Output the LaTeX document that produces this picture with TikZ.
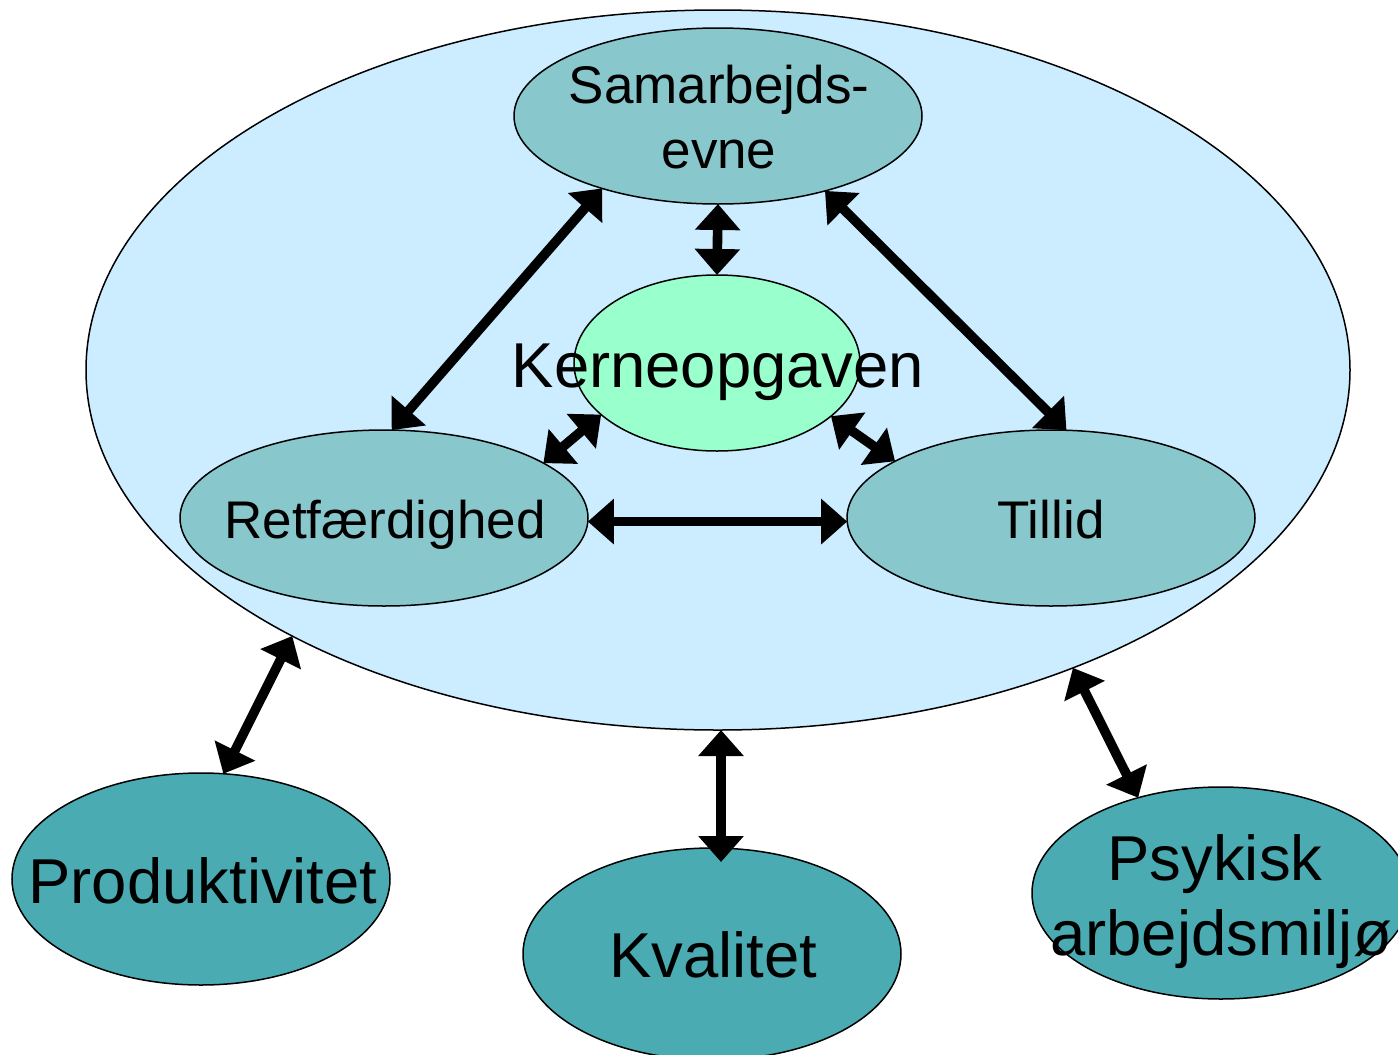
\documentclass[tikz,border=0pt]{standalone}
\usepackage{fontspec}
\setmainfont{Liberation Sans}
\usetikzlibrary{shapes.geometric,arrows.meta,calc}
\definecolor{bigblue}{HTML}{CCECFF}
\definecolor{midteal}{HTML}{88C8CC}
\definecolor{mint}{HTML}{99FFCC}
\definecolor{darkteal}{HTML}{4AABB3}
\tikzset{
  ell/.style={ellipse, draw=black, line width=0.75pt, inner sep=0pt, outer sep=0pt},
  inner/.style={ell, fill=midteal, minimum width=204pt, minimum height=88pt},
  outer/.style={ell, fill=darkteal, minimum width=189pt, minimum height=106pt},
  txtS/.style={anchor=base, inner sep=0pt, font=\fontsize{26.5}{32}\selectfont},
  txtL/.style={anchor=base, inner sep=0pt, font=\fontsize{31.7}{37}\selectfont},
  link/.style={line width=4.8pt, {Triangle[length=13pt,width=22pt]}-{Triangle[length=13pt,width=22pt]}, shorten <=0pt, shorten >=0pt}
}
\begin{document}
\begin{tikzpicture}[x=0.5pt,y=-0.5pt]
\useasboundingbox (0,0) rectangle (1398,1055);
\clip (0,0) rectangle (1398,1055);
% big ellipse
\node[ell, fill=bigblue, minimum width=632pt, minimum height=360pt] (big) at (718,370) {};
% inner ellipses
\node[inner] (sam) at (718,116) {};
\node[ell, fill=mint, minimum width=143pt, minimum height=88pt] (ker) at (717,363) {};
\node[inner] (ret) at (384,518) {};
\node[inner] (til) at (1051,518) {};
% outer ellipses
\node[outer] (pro) at (201,879) {};
\node[outer] (kva) at (712,954) {};
\node[outer] (psy) at (1221,893) {};
% texts
\node[txtS] (samt1) at (719,103) {Samarbejds-};
\node[txtS] (samt2) at (719,168) {evne};
\node[txtL] (kert) at (718,387) {Kerneopgaven};
\node[txtS] (rett) at (385,538) {Retfærdighed};
\node[txtS] (tilt) at (1051,538) {Tillid};
\node[txtL] (prot) at (203,903) {Produktivitet};
\node[txtL] (kvat) at (713,977) {Kvalitet};
\node[txtL] (psyt1) at (1215,880) {Psykisk};
\node[txtL] (psyt2) at (1221,955) {arbejdsmiljø};
% connectors
\draw[link] (sam.212) -- (ret.85);
\draw[link] (sam.325) -- (til.80.5);
\draw[link] (sam.south) -- (ker.north);
\draw[link] (ker.204.8) -- (ret.19.4);
\draw[link] (ker.335.6) -- (til.160.6);
\draw[link] (ret.-1.4) -- (til.181.4);
\draw[link] (big.212.9) -- (pro.78.8);
\draw[link] ($(big.south)+(3,0)$) -- ($(kva.north)+(9,14)$);
\draw[link] (big.320.5) -- (psy.131.1);
\end{tikzpicture}
\end{document}
